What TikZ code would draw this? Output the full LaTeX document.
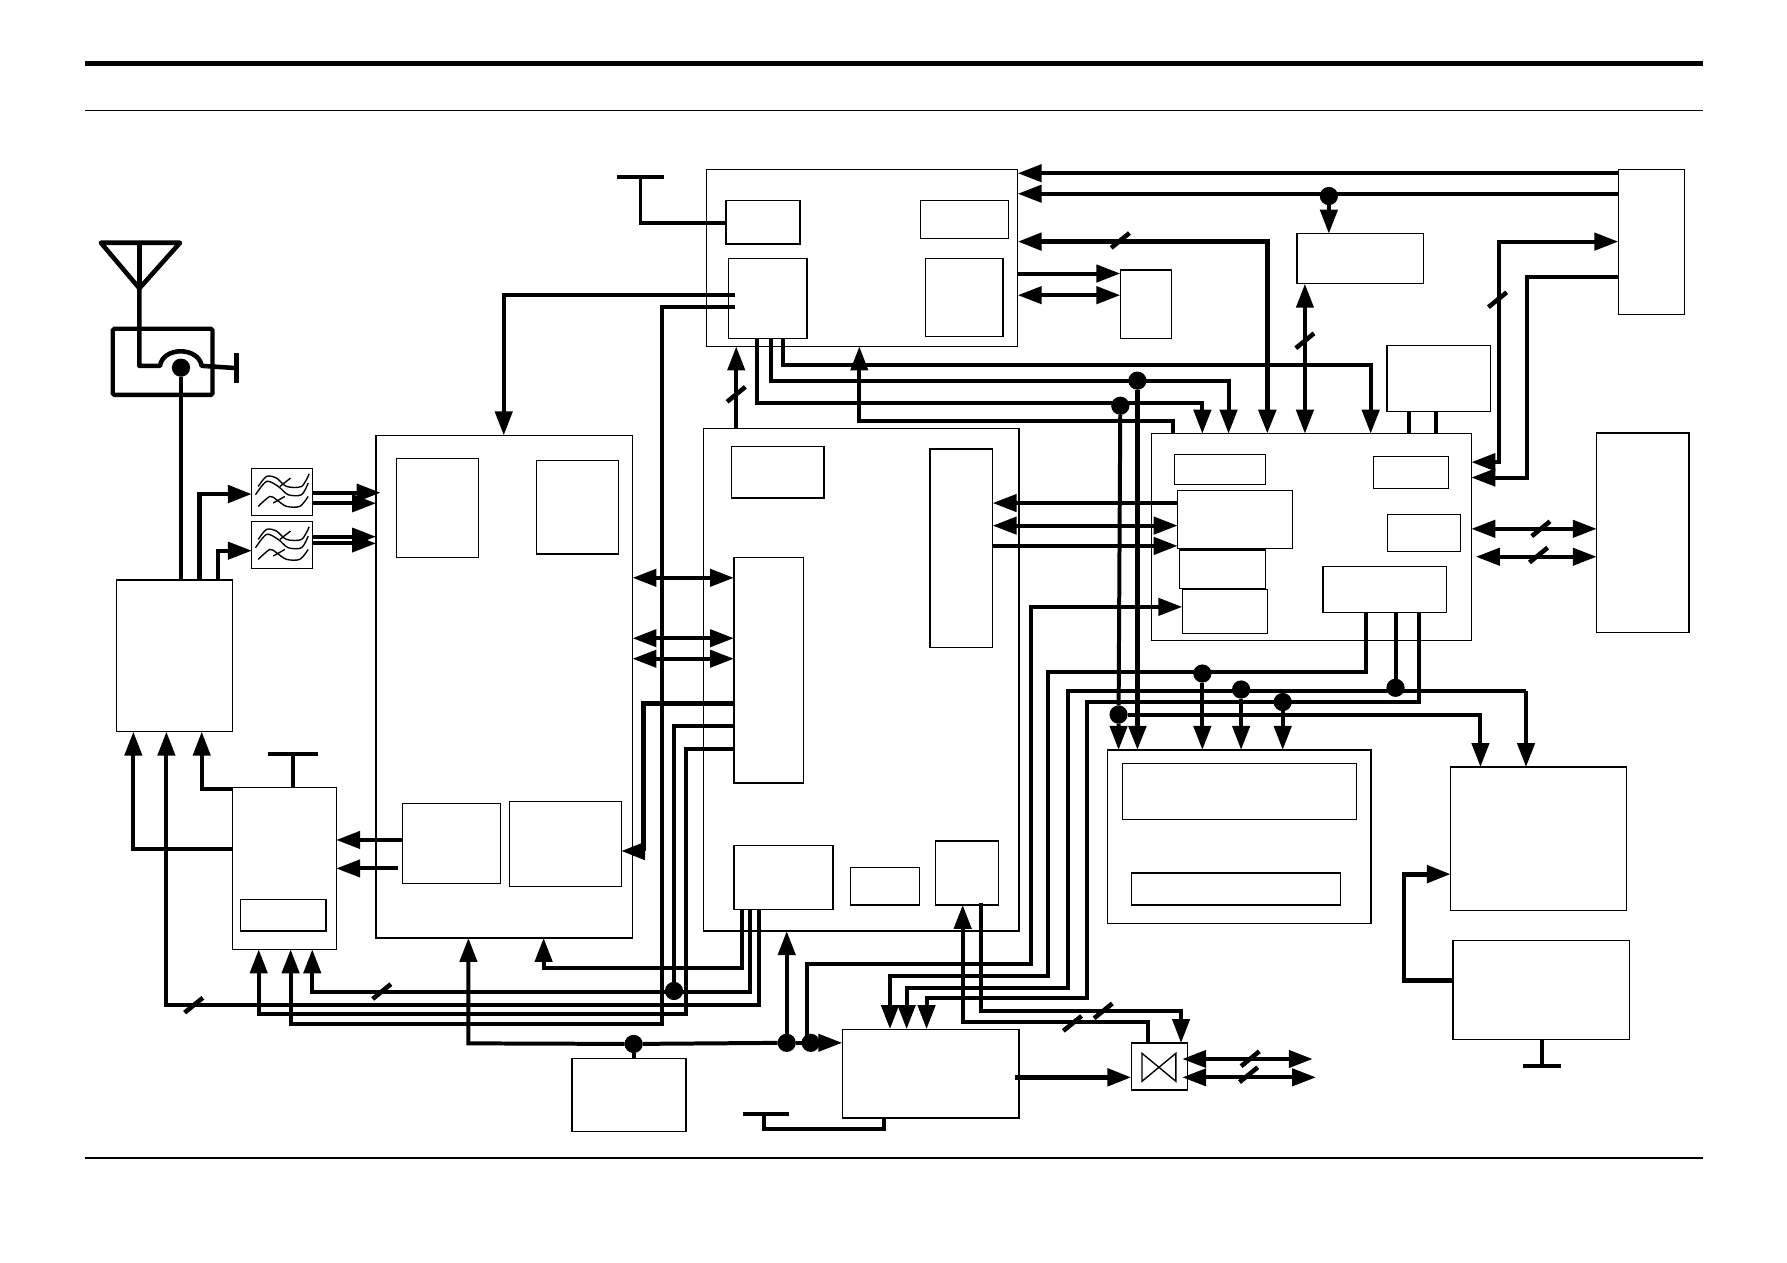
\documentclass[tikz,border=0pt]{standalone}
\usetikzlibrary{arrows.meta,calc}
\tikzset{
  x=0.5pt,y=-0.5pt,
  >={Triangle[length=10.5pt,width=7.5pt]},
  blockbox/.style={draw=black,line width=0.55pt,rectangle,inner sep=0pt,outer sep=0pt},
  wire/.style={line width=1.75pt,black},
  heavywire/.style={line width=2.1pt,black},
  joint/.style={circle,fill=black,draw=none,minimum size=8pt,inner sep=0pt,outer sep=0pt},
  tick/.style={line width=2pt,black},
  trace/.style={line width=0.6pt,black},
  thinrule/.style={line width=0.7pt,black},
}
% a rectangular block given by its corners
\newcommand{\blockat}[5]{\node[blockbox,minimum width={(#4-#2)*0.5pt},minimum height={(#5-#3)*0.5pt}] (#1) at ({(#2+#4)/2},{(#3+#5)/2}) {};}
% bus-width stroke across a wire
\newcommand{\buswidth}[2]{\draw[tick] (#1-8,#2+6.5) -- (#1+8,#2-6.5);}
% band-pass filter block with its three response curves
\newcommand{\filterblock}[3]{%
  \node[blockbox,minimum width=26.5pt,minimum height=20.5pt] (#1) at (#2+26.5,#3+20.5) {};
  \begin{scope}[shift={(#2,#3)}]
    \draw[trace] plot[smooth,tension=0.5] coordinates {(5.6,15.8) (12.9,7) (21.6,8.5) (30.4,15.8) (43.6,15.8) (50.3,4.7)};
    \draw[trace] plot[smooth,tension=0.5] coordinates {(3.2,23.1) (12.9,11.4) (23.1,15.8) (31.9,23.1) (43.6,23.1) (49.4,12.9)};
    \draw[trace] plot[smooth,tension=0.5] coordinates {(5.6,33.3) (15.8,24.6) (21.6,27.5) (30.4,33.3) (42.1,33.3) (49.4,24.6)};
    \draw[trace] (24.6,15.8) -- (33.9,8.5);
    \draw[trace] (18.7,30.4) -- (29,24.6);
  \end{scope}}
\begin{document}
\begin{tikzpicture}
\useasboundingbox (0,0) rectangle (1568,1108);
\fill[white] (0,0) rectangle (1568,1108);

% page rules
\draw[line width=2.2pt] (74.5,56) -- (1494,56);
\draw[thinrule] (74.5,97) -- (1494,97);
\draw[line width=0.55pt] (74.5,1016) -- (1494,1016);

% upper unit
\blockat{upper}{620}{149}{893}{304}
\blockat{uppera}{637}{176}{702}{214}
\blockat{upperb}{808}{176}{885}{209}
\blockat{upperc}{639}{227}{708}{297}
\blockat{upperd}{812}{227}{880}{295}
\blockat{tall}{983}{237}{1028}{297}
\blockat{edgetop}{1420}{149}{1478}{276}
\blockat{wide}{1138}{205}{1249}{249}
\blockat{aux}{1217}{303}{1308}{361}

% right unit
\blockat{rightu}{1010.5}{380.5}{1291}{562}
\blockat{ra}{1030.7}{399}{1110.5}{425}
\blockat{rb}{1033.3}{430.2}{1133.9}{481.1}
\blockat{rc}{1034.8}{482.6}{1110.5}{516.2}
\blockat{rd}{1037.4}{517}{1112}{556}
\blockat{re}{1205.3}{400.4}{1270.8}{428.8}
\blockat{rf}{1217.6}{451.3}{1281.6}{483.7}
\blockat{rg}{1160.8}{497.2}{1269.3}{537.3}
\blockat{edgemid}{1401}{380}{1482}{555}

% middle unit
\blockat{middle}{617}{376}{894}{817}
\blockat{ma}{642}{392}{723}{437}
\blockat{mb}{816}{394}{871}{568}
\blockat{mc}{644}{489}{705}{687}
\blockat{md}{644}{742}{731}{798}
\blockat{me}{746}{761}{807}{794}
\blockat{mf}{821}{738}{876}{794}

% left unit
\blockat{leftu}{330}{382}{555}{823}
\blockat{la}{348}{402}{420}{489}
\blockat{lb}{471}{404}{543}{486}
\blockat{lc}{353}{705}{439}{775}
\blockat{ld}{447}{703}{545}{778}

% front end
\blockat{pa}{102}{509}{204}{642}
\blockat{tx}{204}{691}{295}{833}
\blockat{txin}{211}{789}{286}{817}
\filterblock{filta}{221}{411}
\filterblock{filtb}{221}{457.5}

% lower row
\blockat{cell}{502}{929}{602}{993}
\blockat{audio}{739}{903}{894}{981}
\blockat{switch}{992.7}{915.2}{1041.7}{956.4}
\draw[trace] (1002,924.2) -- (1031.8,948.8) -- (1031.8,924.2) -- (1002,948.8) -- cycle;

% display and lower right
\blockat{disp}{972}{658}{1203}{810}
\blockat{dispa}{985}{670}{1190}{719}
\blockat{dispb}{993}{766}{1176}{794}
\blockat{lcd}{1273}{673}{1427}{799}
\blockat{sensor}{1275}{825}{1430}{912}

% antenna and duplexer
\coordinate (feed) at (122.3,253);
\draw[line width=2pt,line join=round] (88.5,213) -- (158,213) -- (feed) -- cycle;
\draw[line width=2pt] (122.3,213) -- (feed);
\node[blockbox,line width=1.9pt,rounded corners=0.7pt,minimum width=43.8pt,minimum height=29pt] (dup) at (142.7,317.5) {};
\coordinate (duparcl) at (140.4,321);
\coordinate (duparcr) at (177,321);
\coordinate (dupstub) at (207.6,323);
\draw[line width=2pt,line join=round] (feed) -- (122.3,321) -- (duparcl) .. controls (143,304) and (174,304) .. (duparcr) -- (dupstub);
\draw[line width=2pt] (dupstub)+(0,-13) -- +(0,13);
\node[joint] (dupdot) at (158.8,322.6) {};
\draw[line width=2pt] (dupdot) -- (pa.north -| dupdot);

% joints
\node[joint] (j1) at (1166,172) {};
\node[joint] (j2) at (998,334) {};
\node[joint] (j3) at (983,356) {};
\node[joint] (j4) at (1055,591) {};
\node[joint] (j5) at (1089,605) {};
\node[joint] (j6) at (1125.5,616) {};
\node[joint] (j7) at (1224.5,603.5) {};
\node[joint] (j8) at (981.5,627) {};
\node[joint] (j9) at (591.4,869.5) {};
\node[joint] (j10) at (556,916) {};
\node[joint] (j11) at (690.3,915) {};
\node[joint] (j12) at (711.3,915) {};

% upper unit connections
\draw[wire,->] (edgetop.west |- 0,152) -- (upper.east |- 0,152);
\draw[wire,->] (edgetop.west |- 0,170) -- (upper.east |- 0,170);
\draw[wire,->] (j1) -- (wide.north -| j1);
\draw[heavywire,<->] (upper.east |- 0,212) -- (1112,212) -- (rightu.north -| 1112,0);
\draw[wire,->] (upper.east |- 0,240) -- (tall.west |- 0,240);
\draw[wire,<->] (upper.east |- 0,259) -- (tall.west |- 0,259);
\draw[wire,<->] (wide.south -| 1145,0) -- (rightu.north -| 1145,0);
\draw[wire,<->] (rightu.east |- 0,405.5) -- (1315,405.5) -- (1315,212) -- (edgetop.west |- 0,212);
\draw[wire,<-] (rightu.east |- 0,419) -- (1340,419) -- (1340,243) -- (edgetop.west |- 0,243);
\draw[wire] (aux.south -| 1236.6,0) -- (rightu.north -| 1236.6,0);
\draw[wire] (aux.south -| 1260,0) -- (rightu.north -| 1260,0);

% ground of the upper unit
\coordinate (gndup) at (562,155);
\draw[wire] (gndup)+(-21,0) -- +(21,0);
\draw[wire] (gndup) -- (562,196) -- (uppera.west |- 0,196);

% between upper and lower units
\draw[wire,->] (middle.north -| 646,0) -- (upper.south -| 646,0);
\coordinate (tapa) at (645,259);
\coordinate (tapb) at (645,269);
\draw[wire,->] (tapa) -- (442,259) -- (leftu.north -| 442,0);
\draw[wire,->] (tapb) -- (580.6,269) -- (580.6,898.8) -- (255,898.8) -- (tx.south -| 255,0);
\draw[wire,->] (upperc.south -| 664.5,0) -- (664.5,354) -- (1055,354) -- (rightu.north -| 1055,0);
\draw[wire,->] (upperc.south -| 676.8,0) -- (676.8,334.3) -- (1078,334.3) -- (rightu.north -| 1078,0);
\draw[wire,->] (upperc.south -| 687.3,0) -- (687.3,320.3) -- (1202.7,320.3) -- (rightu.north -| 1202.7,0);
\draw[wire,->] (rightu.north -| 1029,0) -- (1029,369) -- (754,369) -- (upper.south -| 754,0);
\draw[wire,->] (j3) -- (j8) -- (disp.north -| j8);
\draw[heavywire,->] (j2) -- (disp.north -| j2);

% left unit to middle unit
\draw[wire,<->] (leftu.east |- 0,507) -- (mc.west |- 0,507);
\draw[wire,<->] (leftu.east |- 0,560) -- (mc.west |- 0,560);
\draw[wire,<->] (leftu.east |- 0,578) -- (mc.west |- 0,578);
\draw[heavywire,->] (mc.west |- 0,617) -- (564.5,617) -- (564.5,746.7) -- (ld.east |- 0,746.7);
\draw[wire] (mc.west |- 0,636.7) -- (591.4,636.7) -- (j9);
\draw[wire,->] (mc.west |- 0,657) -- (602.2,657) -- (602.2,890) -- (227,890) -- (tx.south -| 227,0);
\draw[wire,->] (md.south -| 651,0) -- (651,849) -- (477,849) -- (leftu.south -| 477,0);
\draw[wire,->] (md.south -| 658,0) -- (658,870) -- (274,870) -- (tx.south -| 274,0);
\draw[wire,->] (md.south -| 666,0) -- (666,881.8) -- (146,881.8) -- (pa.south -| 146,0);

% middle unit to right unit
\draw[wire,->] (rb.west |- 0,441.4) -- (mb.east |- 0,441.4);
\draw[wire,<->] (mb.east |- 0,461.2) -- (rb.west |- 0,461.2);
\draw[wire,->] (mb.east |- 0,479) -- (rb.west |- 0,479);
\coordinate (audtap) at (707.8,915);
\draw[wire,->] (audtap) -- (707.8,845.6) -- (904.3,845.6) -- (904.3,532.5) -- (rd.west |- 0,532.5);
\draw[wire,->] (rg.south -| 1199,0) -- (1199,589.6) -- (919.8,589.6) -- (919.8,856.7) -- (780.9,856.7) -- (audio.north -| 780.9,0);
\draw[wire,->] (j4) -- (disp.north -| j4);
\draw[wire] (rg.south -| 1224.5,0) -- (j7);
\coordinate (lcdbus) at (1339,606.3);
\draw[wire,->] (lcdbus) -- (lcd.north -| lcdbus);
\draw[wire,->] (lcdbus) -- (937,606.3) -- (937,866.6) -- (795.5,866.6) -- (audio.north -| 795.5,0);
\draw[wire,->] (j5) -- (disp.north -| j5);
\draw[wire,->] (rg.south -| 1244.8,0) -- (1244.8,615.7) -- (953.5,615.7) -- (953.5,876) -- (813,876) -- (audio.north -| 813,0);
\draw[wire,->] (j6) -- (disp.north -| j6);
\draw[wire,->] (j8) -- (1299,627) -- (lcd.north -| 1299,0);

% right edge buses
\draw[wire,<->] (rightu.east |- 0,464) -- (edgemid.west |- 0,464);
\coordinate (busend) at (1295,488.5);
\draw[wire,<->] (busend) -- (edgemid.west |- 0,488.5);

% front end connections
\draw[heavywire,->] (pa.north -| 175,0) -- (175,433.5) -- (filta.west |- 0,433.5);
\draw[wire,->] (pa.north -| 191.3,0) -- (191.3,483.2) -- (filtb.west |- 0,483.2);
\draw[wire,->,shorten >=-2pt] (filta.east |- 0,432.3) -- (leftu.west |- 0,432.3);
\draw[wire,->] (filta.east |- 0,441.6) -- (leftu.west |- 0,441.6);
\draw[wire,->] (filtb.east |- 0,470.9) -- (leftu.west |- 0,470.9);
\draw[wire,->] (filtb.east |- 0,476.8) -- (leftu.west |- 0,476.8);
\draw[wire,->] (tx.west |- 0,745) -- (117,745) -- (pa.south -| 117,0);
\draw[wire,->] (tx.west |- 0,692) -- (177,692) -- (pa.south -| 177,0);
\draw[wire,->] (lc.west |- 0,737) -- (tx.east |- 0,737);
\coordinate (lcout) at (349,762);
\draw[wire,->] (lcout) -- (tx.east |- 0,762);
\coordinate (gndtx) at (257,662);
\draw[wire] (gndtx)+(-22,0) -- +(22,0);
\draw[wire] (gndtx) -- (tx.north -| gndtx);

% supply rail
\draw[wire,->] (j10) -- (411,915.5) -- (leftu.south -| 411,0);
\draw[wire] (j10) -- (j11);
\draw[wire] (j11) -- (j12);
\draw[wire,->] (j12) -- (audio.west |- j12);
\draw[wire] (j10) -- (cell.north -| j10);
\draw[wire,->] (j11) -- (middle.south -| j11);

% audio and switch
\coordinate (gndau) at (670.3,977.8);
\draw[wire] (gndau)+(-18,0) -- +(21.7,0);
\draw[wire] (gndau) -- (670.3,990.3) -- (775.7,990.3) -- (audio.south -| 775.7,0);
\draw[wire,->] (switch.north -| 1007.6,0) -- (1007.6,896.5) -- (844.7,896.5) -- (mf.south -| 844.7,0);
\coordinate (mftap) at (861,792.6);
\draw[wire,->] (mftap) -- (861,886.8) -- (1036.3,886.8) -- (switch.north -| 1036.3,0);
\coordinate (audout) at (891,945.3);
\draw[heavywire,->] (audout) -- (switch.west |- 0,945.3);
\coordinate (linea) at (1151.8,929.2);
\coordinate (lineb) at (1154.7,945.3);
\coordinate (pinsa) at (1037.4,929.2);
\coordinate (pinsb) at (1037.4,945.3);
\draw[wire,<->] (pinsa) -- (linea);
\draw[wire,<->] (pinsb) -- (lineb);

% sensor to lcd
\draw[heavywire,->] (sensor.west |- 0,860) -- (1232,860) -- (1232,767) -- (lcd.west |- 0,767);
\coordinate (gndlow) at (1353,935);
\draw[wire] (gndlow)+(-16.5,0) -- +(16.5,0);
\draw[wire] (sensor.south -| gndlow) -- (gndlow);

% bus-width strokes
\buswidth{983}{211}
\buswidth{1145}{299}
\buswidth{1314}{263}
\buswidth{646}{346}
\buswidth{1352}{464}
\buswidth{1350}{487}
\buswidth{335}{870}
\buswidth{170}{882}
\buswidth{941}{898}
\buswidth{968}{887}
\buswidth{1097}{929}
\buswidth{1095.6}{943}
\end{tikzpicture}
\end{document}
